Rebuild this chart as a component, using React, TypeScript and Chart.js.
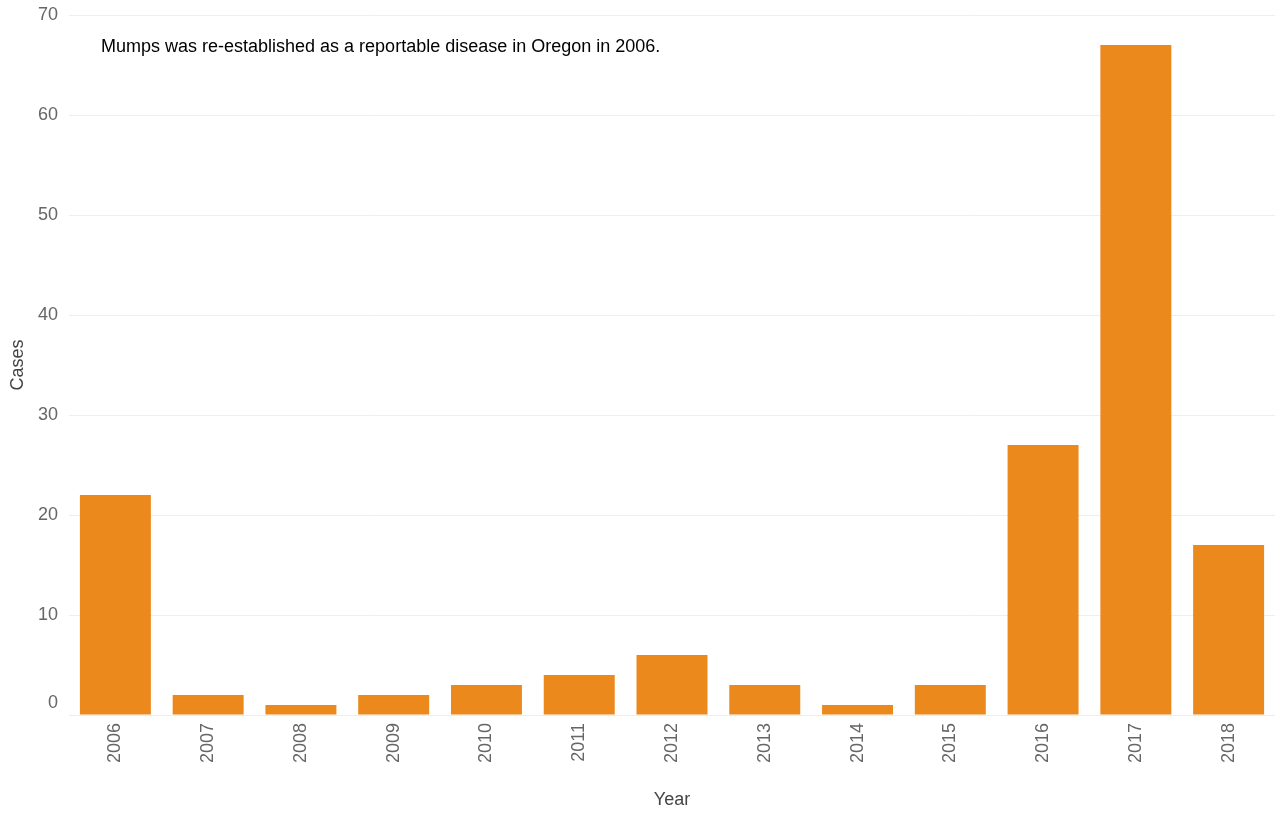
import React, { useEffect, useRef } from "react";
import { Chart, registerables } from "chart.js";

Chart.register(...registerables);

const years = ["2006", "2007", "2008", "2009", "2010", "2011", "2012", "2013", "2014", "2015", "2016", "2017", "2018"];
const cases = [22, 2, 1, 2, 3, 4, 6, 3, 1, 3, 27, 67, 17];
const note = "Mumps was re-established as a reportable disease in Oregon in 2006.";
const FONT = "'Liberation Sans', Arial, sans-serif";

const notePlugin = {
  id: "notePlugin",
  afterDraw(chart: any) {
    const { ctx, chartArea, scales } = chart;
    ctx.save();
    ctx.font = `18px ${FONT}`;
    ctx.fillStyle = "#000";
    ctx.textAlign = "left";
    ctx.textBaseline = "middle";
    ctx.fillText(note, chartArea.left + 32, chartArea.top + 32);
    // zero label drawn slightly above the baseline, as in the reference
    ctx.fillStyle = "#666";
    ctx.textAlign = "right";
    ctx.fillText("0", chartArea.left - 11, scales.y.getPixelForValue(0) - 12);
    ctx.restore();
  },
};

export default function App() {
  const ref = useRef<HTMLCanvasElement>(null);
  useEffect(() => {
    const chart = new Chart(ref.current!, {
      type: "bar",
      data: {
        labels: years,
        datasets: [
          {
            label: "Cases",
            data: cases,
            backgroundColor: "#EC891D",
            categoryPercentage: 0.765,
            barPercentage: 1,
          },
        ],
      },
      options: {
        animation: false,
        responsive: false,
        maintainAspectRatio: false,
        layout: { padding: { top: 15, right: 0, left: 0, bottom: 0 } },
        plugins: { legend: { display: false }, tooltip: { enabled: false } },
        scales: {
          x: {
            grid: { display: false, drawTicks: false },
            border: { display: false },
            ticks: {
              color: "#666",
              font: { family: FONT, size: 18 },
              minRotation: 90,
              maxRotation: 90,
              padding: 8,
            },
            title: {
              display: true,
              text: "Year",
              color: "#444",
              font: { family: FONT, size: 18 },
              padding: { top: 0, bottom: 2 },
            },
            afterFit: (s: any) => {
              s.height = 98;
              s.paddingLeft = 0;
              s.paddingRight = 0;
            },
          },
          y: {
            min: 0,
            max: 70,
            grid: { color: "#eeeeee", lineWidth: 1, drawTicks: false },
            border: { display: false },
            ticks: {
              stepSize: 10,
              color: "#666",
              font: { family: FONT, size: 18 },
              padding: 11,
              callback: (v: any) => (v === 0 ? "" : String(v)),
            },
            title: {
              display: true,
              text: "Cases",
              color: "#444",
              font: { family: FONT, size: 18 },
              padding: { top: 7, bottom: 0 },
            },
            afterFit: (s: any) => {
              s.width = 69;
              s.paddingTop = 0;
              s.paddingBottom = 0;
            },
          },
        },
      },
      plugins: [notePlugin],
    });
    return () => chart.destroy();
  }, []);
  return (
    <div style={{ position: "fixed", left: 0, top: 0, width: 1275, height: 813, background: "#fff" }}>
      <canvas ref={ref} width={1275} height={813} style={{ display: "block" }} />
    </div>
  );
}
